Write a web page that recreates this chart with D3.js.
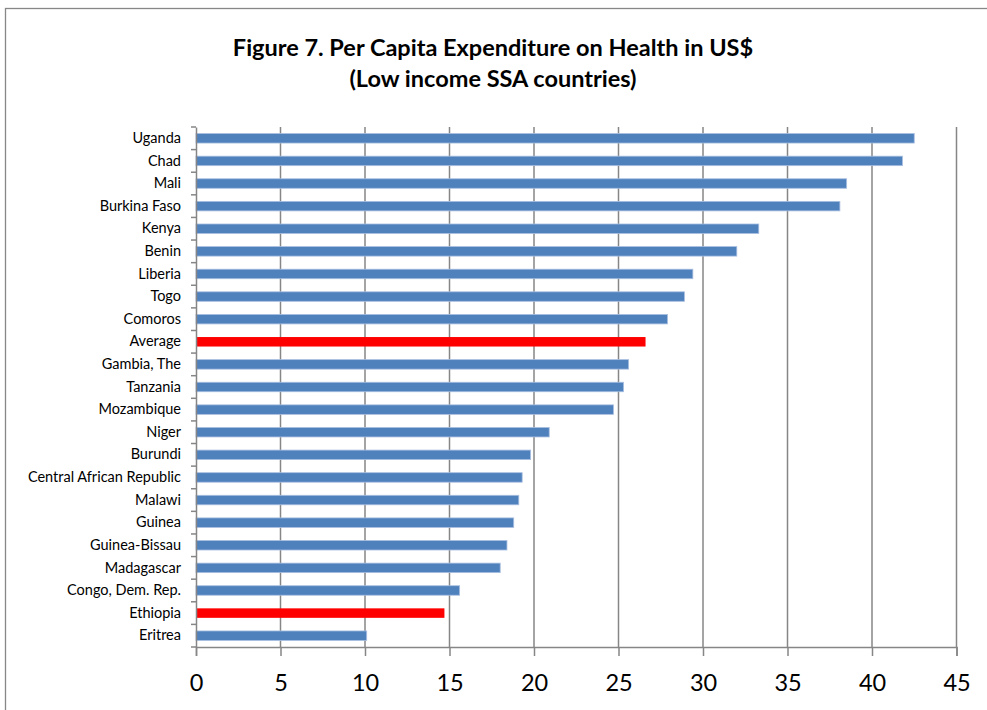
<!DOCTYPE html>
<html><head><meta charset="utf-8">
<script src="https://cdn.jsdelivr.net/npm/d3@7"></script>
<style>body{margin:0;background:#fff;} svg{display:block;}</style>
</head><body>
<script>
const categories = ["Uganda","Chad","Mali","Burkina Faso","Kenya","Benin","Liberia","Togo","Comoros","Average","Gambia, The","Tanzania","Mozambique","Niger","Burundi","Central African Republic","Malawi","Guinea","Guinea-Bissau","Madagascar","Congo, Dem. Rep.","Ethiopia","Eritrea"];
const values = [42.5,41.8,38.5,38.1,33.3,32.0,29.4,28.9,27.9,26.6,25.6,25.3,24.7,20.9,19.8,19.3,19.1,18.8,18.4,18.0,15.6,14.7,10.1];
const highlighted = ["Average","Ethiopia"];
const xTicks = [0,5,10,15,20,25,30,35,40,45];
const titleLines = ["Figure 7. Per Capita Expenditure on Health in US$","(Low income SSA countries)"];

(function(){
const W=987,H=710;
const svg=d3.select("body").append("svg").attr("width",W).attr("height",H);
svg.append("rect").attr("x",5.5).attr("y",8.5).attr("width",W+10).attr("height",H+10)
  .attr("fill","#fff").attr("stroke","#878787").attr("stroke-width",1.3);

const pL=196,pR=956.5,pT=127,pB=647;
const x=d3.scaleLinear().domain([0,45]).range([pL,pR]);
const y=d3.scaleBand().domain(categories).range([pT,pB]).paddingInner(0.58).paddingOuter(0.29);

const font="Lato, 'Open Sans', sans-serif";
svg.selectAll("text.title").data(titleLines).enter().append("text")
  .attr("x",493).attr("y",(d,i)=>56+i*31).attr("text-anchor","middle")
  .attr("font-family",font).attr("font-weight","bold").attr("font-size",23.5).attr("fill","#000").text(d=>d);

svg.append("g").selectAll("line").data(xTicks.slice(1)).enter().append("line")
  .attr("x1",d=>x(d)).attr("x2",d=>x(d)).attr("y1",pT).attr("y2",pB)
  .attr("stroke","#868686").attr("stroke-width",1.5);

svg.append("g").selectAll("rect").data(categories).enter().append("rect")
  .attr("x",x(0)).attr("y",d=>y(d)).attr("height",y.bandwidth())
  .attr("width",(d,i)=>x(values[i])-x(0))
  .attr("fill",d=>highlighted.includes(d)?"#FF0000":"#4F81BD")
  .attr("stroke",d=>highlighted.includes(d)?"none":"#a9bfe0").attr("stroke-width",0.8);

const xa=svg.append("g").attr("transform",`translate(0,${pB})`)
  .call(d3.axisBottom(x).tickValues(xTicks).tickSize(9).tickPadding(18).tickFormat(d3.format("d")));
xa.select(".domain").attr("stroke","#868686").attr("stroke-width",1.5);
xa.selectAll(".tick line").attr("stroke","#868686").attr("stroke-width",1.5);
xa.selectAll("text").attr("font-family",font).attr("font-size",23.5).attr("fill","#000");

const step=y.step();
const ya=svg.append("g").attr("transform",`translate(${pL},0)`)
  .call(d3.axisLeft(y).tickSize(0).tickPadding(15));
ya.select(".domain").attr("stroke","#868686").attr("stroke-width",1.5);
ya.selectAll("text").attr("font-family",font).attr("font-size",14.5).attr("fill","#000");
ya.selectAll("line.bd").data(d3.range(categories.length+1)).enter().append("line").attr("class","bd")
  .attr("x1",-5).attr("x2",0).attr("y1",i=>pT+i*step).attr("y2",i=>pT+i*step)
  .attr("stroke","#868686").attr("stroke-width",1.5);
})();
</script>
</body></html>
